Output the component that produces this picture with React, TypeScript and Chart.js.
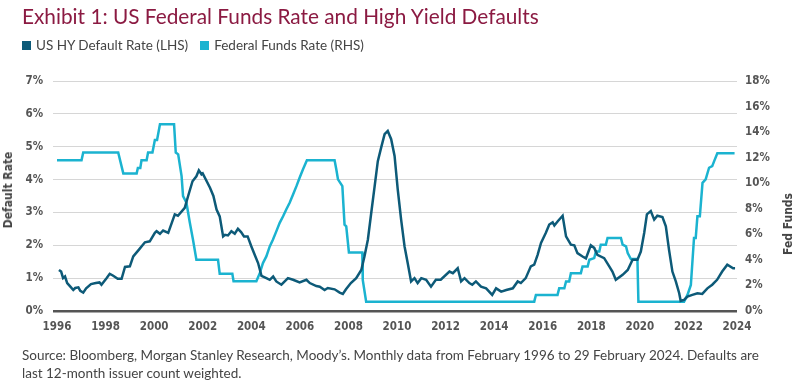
import React, { useEffect, useRef } from "react";
import { Chart, registerables } from "chart.js";

Chart.register(...registerables);

const TITLE = "Exhibit 1: US Federal Funds Rate and High Yield Defaults";
const SERIES_NAMES = ["US HY Default Rate (LHS)", "Federal Funds Rate (RHS)"];
const LEFT_AXIS_TITLE = "Default Rate";
const RIGHT_AXIS_TITLE = "Fed Funds";
const SOURCE_LINES = [
  "Source: Bloomberg, Morgan Stanley Research, Moody\u2019s. Monthly data from February 1996 to 29 February 2024. Defaults are",
  "last 12-month issuer count weighted.",
];

const xTicks = [1996, 1998, 2000, 2002, 2004, 2006, 2008, 2010, 2012, 2014, 2016, 2018, 2020, 2022, 2024];
const leftTicks = [0, 1, 2, 3, 4, 5, 6, 7];
const rightTicks = [0, 2, 4, 6, 8, 10, 12, 14, 16, 18];

// US HY default rate (%), LHS
const hyDates = [
  1996.08, 1996.17, 1996.25, 1996.33, 1996.42, 1996.55, 1996.67, 1996.75, 1996.88, 1996.96,
  1997.08, 1997.2, 1997.4, 1997.6, 1997.75, 1997.83, 1998.04, 1998.17, 1998.3, 1998.5,
  1998.66, 1998.8, 1999.0, 1999.14, 1999.4, 1999.62, 1999.82, 2000.03, 2000.1, 2000.24,
  2000.37, 2000.58, 2000.85, 2000.98, 2001.26, 2001.4, 2001.58, 2001.74, 2001.84, 2001.95,
  2002.0, 2002.3, 2002.44, 2002.57, 2002.7, 2002.84, 2002.92, 2003.04, 2003.18, 2003.32,
  2003.45, 2003.58, 2003.7, 2003.85, 2004.0, 2004.14, 2004.28, 2004.42, 2004.62, 2004.76,
  2004.9, 2005.03, 2005.24, 2005.51, 2005.72, 2005.99, 2006.27, 2006.41, 2006.68, 2006.82,
  2007.02, 2007.15, 2007.43, 2007.64, 2007.77, 2007.9, 2008.1, 2008.32, 2008.53, 2008.66,
  2008.8, 2008.94, 2009.08, 2009.21, 2009.35, 2009.49, 2009.62, 2009.76, 2009.9, 2010.03,
  2010.17, 2010.31, 2010.44, 2010.58, 2010.72, 2010.85, 2011.0, 2011.2, 2011.4, 2011.6,
  2011.8, 2012.16, 2012.3, 2012.5, 2012.64, 2012.78, 2012.98, 2013.1, 2013.25, 2013.46,
  2013.67, 2013.92, 2014.08, 2014.29, 2014.5, 2014.77, 2014.97, 2015.1, 2015.3, 2015.51,
  2015.65, 2015.79, 2015.93, 2016.13, 2016.27, 2016.41, 2016.48, 2016.62, 2016.82, 2016.96,
  2017.16, 2017.3, 2017.43, 2017.64, 2017.78, 2017.98, 2018.12, 2018.25, 2018.53, 2018.74,
  2018.87, 2019.01, 2019.29, 2019.5, 2019.7, 2019.9, 2020.04, 2020.18, 2020.29, 2020.45,
  2020.59, 2020.72, 2020.93, 2021.07, 2021.2, 2021.34, 2021.48, 2021.62, 2021.68, 2021.82,
  2021.96, 2022.16, 2022.37, 2022.57, 2022.78, 2022.98, 2023.18, 2023.39, 2023.6, 2023.84,
  2023.92,
];
const hyValues = [
  1.25, 1.2, 1.0, 1.05, 0.85, 0.74, 0.64, 0.7, 0.72, 0.61,
  0.56, 0.69, 0.82, 0.85, 0.87, 0.8, 1.0, 1.13, 1.08, 0.98,
  0.98, 1.34, 1.36, 1.66, 1.89, 2.09, 2.12, 2.38, 2.43, 2.35,
  2.45, 2.38, 2.94, 2.9, 3.14, 3.5, 3.95, 4.1, 4.28, 4.16,
  4.19, 3.75, 3.5, 3.09, 2.88, 2.27, 2.32, 2.3, 2.43, 2.35,
  2.5, 2.4, 2.27, 2.27, 1.97, 1.71, 1.46, 1.07, 1.0, 0.95,
  1.05, 0.9, 0.8, 1.0, 0.95, 0.87, 0.95, 0.85, 0.76, 0.74,
  0.64, 0.7, 0.66, 0.56, 0.52, 0.66, 0.85, 1.0, 1.25, 1.66,
  2.17, 2.99, 3.8, 4.56, 4.98, 5.38, 5.48, 5.23, 4.72, 3.7,
  2.78, 1.97, 1.46, 0.9, 1.0, 0.85, 1.0, 0.95, 0.74, 0.95,
  0.95, 1.2, 1.15, 1.3, 0.9, 1.0, 0.85, 0.8, 0.9, 0.74,
  0.69, 0.49, 0.69, 0.59, 0.64, 0.69, 0.9, 0.85, 1.0, 1.36,
  1.41, 1.71, 2.07, 2.38, 2.63, 2.7, 2.6, 2.73, 2.9, 2.27,
  2.02, 2.0, 1.76, 1.66, 1.6, 2.0, 1.92, 1.71, 1.61, 1.36,
  1.2, 0.95, 1.1, 1.25, 1.56, 1.56, 1.81, 2.38, 2.94, 3.04,
  2.78, 2.9, 2.86, 2.58, 1.87, 1.2, 0.9, 0.54, 0.31, 0.34,
  0.44, 0.49, 0.54, 0.52, 0.69, 0.8, 0.95, 1.2, 1.41, 1.3,
  1.3,
];

// Federal funds rate (%), RHS
const ffDates = [
  1996.0, 1997.01, 1997.08, 1998.52, 1998.73, 1999.28, 1999.33, 1999.43, 1999.48, 1999.69,
  1999.75, 1999.93, 2000.03, 2000.12, 2000.24, 2000.82, 2000.89, 2000.99, 2001.13, 2001.19,
  2001.33, 2001.47, 2001.6, 2001.74, 2002.63, 2002.7, 2003.22, 2003.27, 2004.21, 2004.35,
  2004.48, 2004.62, 2004.76, 2004.89, 2005.03, 2005.17, 2005.31, 2005.44, 2005.58, 2005.72,
  2005.86, 2005.99, 2006.13, 2006.29, 2007.43, 2007.5, 2007.57, 2007.75, 2007.84, 2007.91,
  2008.02, 2008.57, 2008.59, 2008.73, 2015.65, 2015.72, 2016.61, 2016.68, 2016.89, 2016.96,
  2017.09, 2017.16, 2017.57, 2017.64, 2017.85, 2017.92, 2018.12, 2018.19, 2018.33, 2018.39,
  2018.6, 2018.67, 2019.22, 2019.29, 2019.43, 2019.5, 2019.63, 2019.9, 2019.94, 2021.82,
  2021.96, 2022.1, 2022.23, 2022.3, 2022.37, 2022.47, 2022.58, 2022.71, 2022.85, 2022.98,
  2023.06, 2023.19, 2023.9,
];
const ffValues = [
  11.79, 11.79, 12.4, 12.4, 10.77, 10.77, 11.2, 11.2, 11.79, 11.79,
  12.4, 12.4, 13.39, 13.39, 14.62, 14.62, 12.4, 12.26, 10.56, 8.99,
  8.47, 6.9, 5.58, 4.01, 4.01, 2.91, 2.91, 2.33, 2.33, 2.96,
  3.75, 4.27, 5.06, 5.58, 6.23, 6.9, 7.41, 7.94, 8.47, 9.12,
  9.77, 10.43, 11.09, 11.79, 11.79, 11.09, 10.3, 9.77, 6.76, 6.63,
  4.58, 4.58, 2.44, 0.73, 0.73, 1.26, 1.26, 1.78, 1.78, 2.31,
  2.31, 2.96, 2.96, 3.48, 3.48, 4.01, 4.14, 4.66, 4.66, 5.19,
  5.19, 5.71, 5.71, 5.19, 5.06, 4.53, 4.06, 4.06, 0.73, 0.73,
  1.26, 2.04, 5.71, 5.71, 7.41, 7.41, 10.03, 10.3, 11.21, 11.34,
  11.73, 12.34, 12.34,
];

const DARK = "#0d5a78";
const LIGHT = "#1bb3d0";
const MAROON = "#8b1a42";
const TICK_FONT = "'DejaVu Sans Condensed', 'DejaVu Sans', sans-serif";
const TEXT_FONT = "Lato, 'Open Sans', sans-serif";

export default function App() {
  const ref = useRef<HTMLCanvasElement | null>(null);

  useEffect(() => {
    if (!ref.current) return;
    const tickFont = { family: TICK_FONT, size: 11.5, weight: "bold" as const };
    const chart = new Chart(ref.current, {
      type: "line",
      data: {
        datasets: [
          {
            label: SERIES_NAMES[0],
            data: hyDates.map((x, i) => ({ x, y: hyValues[i] })),
            yAxisID: "y",
            borderColor: DARK,
            backgroundColor: DARK,
            borderWidth: 2.5,
            pointRadius: 0,
            tension: 0,
            order: 0,
          },
          {
            label: SERIES_NAMES[1],
            data: ffDates.map((x, i) => ({ x, y: ffValues[i] })),
            yAxisID: "y1",
            borderColor: LIGHT,
            backgroundColor: LIGHT,
            borderWidth: 2.5,
            pointRadius: 0,
            tension: 0,
            order: 1,
          },
        ],
      },
      options: {
        animation: false,
        responsive: false,
        maintainAspectRatio: false,
        layout: { padding: { top: 81, bottom: 48, left: 0, right: 0 } },
        plugins: { legend: { display: false }, tooltip: { enabled: false }, title: { display: false } },
        scales: {
          x: {
            type: "linear",
            min: xTicks[0],
            max: xTicks[xTicks.length - 1],
            afterBuildTicks: (s: any) => {
              s.ticks = xTicks.map((v) => ({ value: v }));
            },
            ticks: {
              font: tickFont,
              color: "#555",
              padding: 9,
              maxRotation: 0,
              autoSkip: false,
              callback: (v: any) => String(v),
            },
            grid: { display: false, drawTicks: false },
            border: { display: false },
            afterFit: (s: any) => {
              s.height = 28;
            },
          },
          y: {
            position: "left",
            min: leftTicks[0],
            max: leftTicks[leftTicks.length - 1],
            afterBuildTicks: (s: any) => {
              s.ticks = leftTicks.map((v) => ({ value: v }));
            },
            ticks: { font: tickFont, color: "#555", padding: 10, callback: (v: any) => v + "%" },
            grid: {
              color: (c: any) => (c.tick && c.tick.value === 0 ? "#555" : "#d6d6d6"),
              lineWidth: (c: any) => (c.tick && c.tick.value === 0 ? 2.5 : 1),
              tickLength: 4,
            },
            border: { display: false },
            afterFit: (s: any) => {
              s.width = 57;
            },
          },
          y1: {
            position: "right",
            min: rightTicks[0],
            max: rightTicks[rightTicks.length - 1],
            afterBuildTicks: (s: any) => {
              s.ticks = rightTicks.map((v) => ({ value: v }));
            },
            ticks: { font: tickFont, color: "#555", padding: 8, callback: (v: any) => v + "%" },
            grid: { display: false, drawTicks: false },
            border: { display: false },
            afterFit: (s: any) => {
              s.width = 63;
            },
          },
        },
      },
    });
    return () => chart.destroy();
  }, []);

  return (
    <div
      style={{
        position: "fixed",
        left: 0,
        top: 0,
        width: 800,
        height: 387,
        background: "#fff",
        overflow: "hidden",
        fontFamily: TEXT_FONT,
      }}
    >
      <canvas ref={ref} width={800} height={387} style={{ position: "absolute", left: 0, top: 0, display: "block" }} />
      <div
        style={{
          position: "absolute",
          left: 22,
          top: 3,
          fontSize: 20.8,
          color: MAROON,
          whiteSpace: "nowrap",
          lineHeight: "26px",
        }}
      >
        {TITLE}
      </div>
      <div style={{ position: "absolute", left: 22, top: 37, whiteSpace: "nowrap", fontSize: 13.5, color: "#444", lineHeight: "16px" }}>
        <span style={{ display: "inline-block", width: 9, height: 9, background: DARK, marginRight: 5 }} />
        <span>{SERIES_NAMES[0]}</span>
        <span style={{ display: "inline-block", width: 9, height: 9, background: LIGHT, marginLeft: 12, marginRight: 5 }} />
        <span>{SERIES_NAMES[1]}</span>
      </div>
      <div
        style={{
          position: "absolute",
          left: 8,
          top: 190,
          transform: "translate(-50%, -50%) rotate(-90deg)",
          whiteSpace: "nowrap",
          fontFamily: TICK_FONT,
          fontWeight: "bold",
          fontSize: 12,
          color: "#444",
        }}
      >
        {LEFT_AXIS_TITLE}
      </div>
      <div
        style={{
          position: "absolute",
          left: 788,
          top: 224,
          transform: "translate(-50%, -50%) rotate(-90deg)",
          whiteSpace: "nowrap",
          fontFamily: TICK_FONT,
          fontWeight: "bold",
          fontSize: 12,
          color: "#444",
        }}
      >
        {RIGHT_AXIS_TITLE}
      </div>
      <div style={{ position: "absolute", left: 22, top: 346, fontSize: 13.5, color: "#444", lineHeight: "18px", whiteSpace: "nowrap" }}>
        {SOURCE_LINES.map((l, i) => (
          <div key={i}>{l}</div>
        ))}
      </div>
    </div>
  );
}
